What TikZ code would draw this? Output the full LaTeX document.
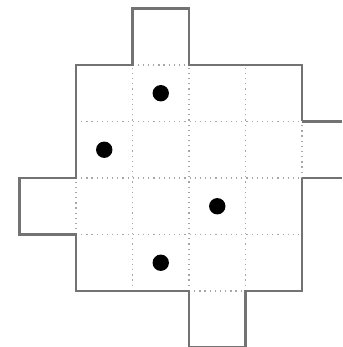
\documentclass[tikz,border=0pt]{standalone}
\begin{document}
\begin{tikzpicture}[x=1cm,y=1cm,
  wall/.style={draw=black!55,line width=1.1pt,line join=miter},
  cellline/.style={draw=black!35,line width=0.6pt,dotted},
  token/.style={fill=black}]
\useasboundingbox (-1.345,-0.991) rectangle (4.708,5.150);
% inner grid lines
\foreach \k in {1,2,3} {
 \draw[cellline] (\k,0)--(\k,4);
 \draw[cellline] (0,\k)--(4,\k);
}
% borders between board and extra cells
\draw[cellline] (1,4)--(2,4);
\draw[cellline] (2,0)--(3,0);
\draw[cellline] (0,1)--(0,2);
\draw[cellline] (4,2)--(4,3);
% outline
\draw[wall] (4,2)--(4,0)--(3,0)--(3,-1)--(2,-1)--(2,0)--(0,0)--(0,1)--(-1,1)
 --(-1,2)--(0,2)--(0,4)--(1,4)--(1,5)--(2,5)--(2,4)--(4,4)--(4,3);
\draw[wall] (4,2)--(4.708,2);
\draw[wall] (4,3)--(4.708,3);
% tokens
\foreach \p in {(1.5,3.5),(0.5,2.5),(2.5,1.5),(1.5,0.5)} {
 \fill[token] \p circle (0.145);
}
\end{tikzpicture}
\end{document}
